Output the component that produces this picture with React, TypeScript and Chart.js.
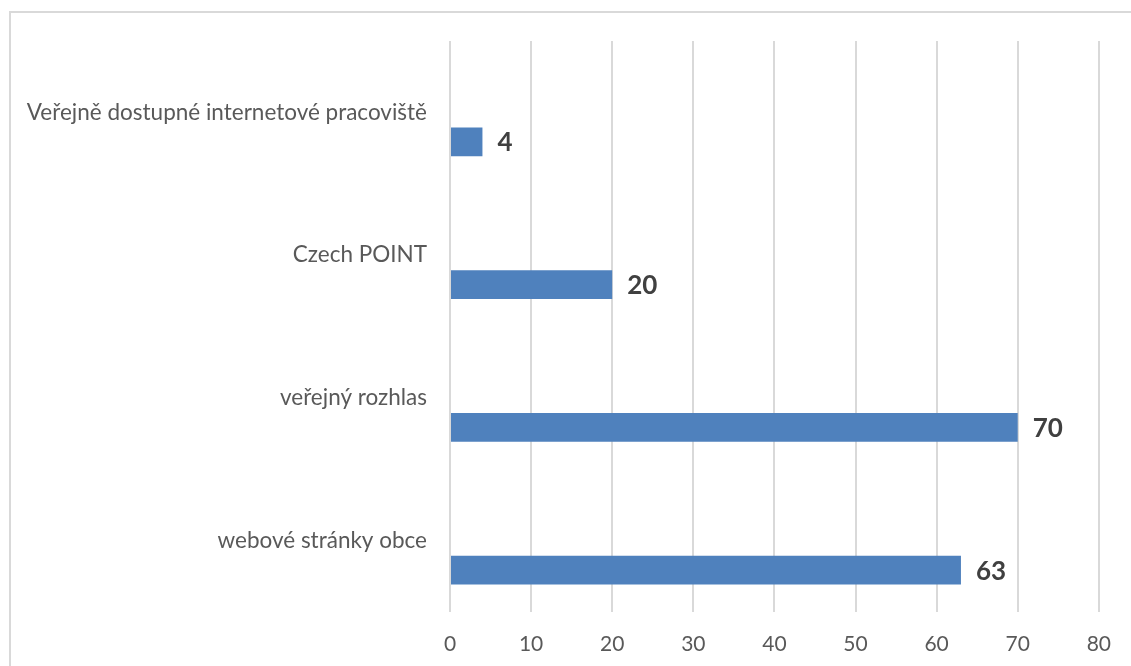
import React, { useEffect, useRef } from "react";
import { Chart, registerables } from "chart.js";

Chart.register(...registerables);

const categories = [
  "Veřejně dostupné internetové pracoviště",
  "Czech POINT",
  "veřejný rozhlas",
  "webové stránky obce",
];
const values = [4, 20, 70, 63];
const emptySeries = [null, null, null, null];
const xTicks = [0, 10, 20, 30, 40, 50, 60, 70, 80];

const FONT = "Lato, 'Open Sans', sans-serif";

const borderPlugin = {
  id: "outerBorder",
  beforeDraw(chart: any) {
    const ctx = chart.ctx;
    ctx.save();
    ctx.strokeStyle = "#d9d9d9";
    ctx.lineWidth = 2;
    ctx.beginPath();
    ctx.moveTo(10, 2000);
    ctx.lineTo(10, 12);
    ctx.lineTo(2000, 12);
    ctx.stroke();
    ctx.restore();
  },
};

const valueLabelPlugin = {
  id: "valueLabels",
  afterDatasetsDraw(chart: any) {
    const ctx = chart.ctx;
    const meta = chart.getDatasetMeta(1);
    ctx.save();
    ctx.font = `bold 26px ${FONT}`;
    ctx.fillStyle = "#404040";
    ctx.textAlign = "left";
    ctx.textBaseline = "middle";
    meta.data.forEach((el: any, i: number) => {
      ctx.fillText(String(values[i]), el.x + 15, el.y + 1);
    });
    ctx.restore();
  },
};

export default function App() {
  const ref = useRef<HTMLCanvasElement | null>(null);
  useEffect(() => {
    if (!ref.current) return;
    const chart = new Chart(ref.current, {
      type: "bar",
      data: {
        labels: categories,
        datasets: [
          {
            label: "empty",
            data: emptySeries as any,
            backgroundColor: "#4F81BD",
            categoryPercentage: 0.827,
            barPercentage: 0.49,
          },
          {
            label: "values",
            data: values,
            backgroundColor: "#4F81BD",
            categoryPercentage: 0.827,
            barPercentage: 0.49,
          },
        ],
      },
      options: {
        indexAxis: "y",
        animation: false,
        responsive: false,
        maintainAspectRatio: false,
        layout: { padding: { left: 0, right: 27, top: 41, bottom: 0 } },
        plugins: {
          legend: { display: false },
          tooltip: { enabled: false },
        },
        scales: {
          x: {
            type: "linear",
            min: xTicks[0],
            max: xTicks[xTicks.length - 1],
            afterFit: (s: any) => {
              s.height = 54;
            },
            afterBuildTicks: (s: any) => {
              s.ticks = xTicks.map((v) => ({ value: v }));
            },
            grid: {
              color: "#d9d9d9",
              lineWidth: 2,
              drawTicks: false,
            },
            border: { display: false },
            ticks: {
              padding: 20,
              color: "#595959",
              font: { family: FONT, size: 21 },
            },
          },
          y: {
            type: "category",
            afterFit: (s: any) => {
              s.width = 450;
            },
            grid: { display: false, drawTicks: false },
            border: { display: false },
            ticks: {
              padding: 23,
              color: "#595959",
              font: { family: FONT, size: 22.5 },
            },
          },
        },
      },
      plugins: [borderPlugin, valueLabelPlugin],
    });
    return () => chart.destroy();
  }, []);
  return (
    <div style={{ position: "fixed", left: 0, top: 0, width: 1131, height: 666, background: "#fff" }}>
      <canvas ref={ref} width={1131} height={666} style={{ width: 1131, height: 666, display: "block" }} />
    </div>
  );
}
